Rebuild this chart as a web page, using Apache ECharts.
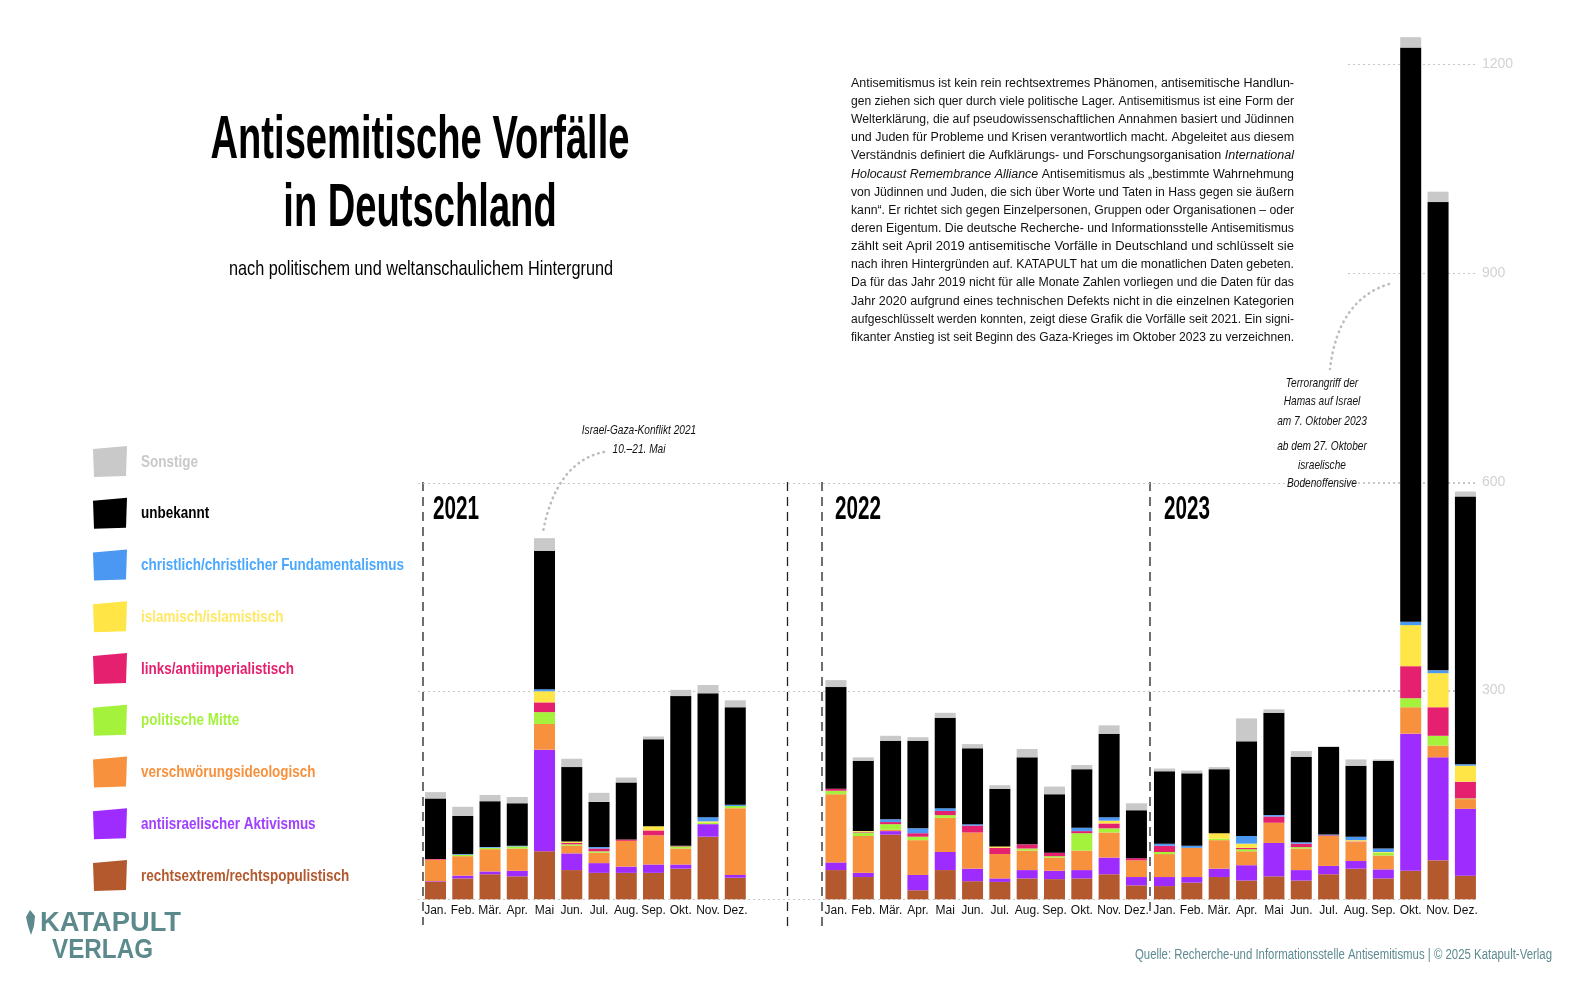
<!DOCTYPE html>
<html><head><meta charset="utf-8">
<script src="https://cdn.jsdelivr.net/npm/echarts@6/dist/echarts.min.js"></script>
<style>html,body{margin:0;padding:0;background:#fff}#c{width:1575px;height:985px}</style>
</head><body><div id="c"></div><script>
// ---------- data ----------
const months = ['Jan.','Feb.','Mär.','Apr.','Mai','Jun.','Jul.','Aug.','Sep.','Okt.','Nov.','Dez.'];
const years = ['2021','2022','2023'];
const yTicks = [0, 300, 600, 900, 1200];
// 36 monthly values (Jan 2021 .. Dez 2023) per category
const rechtsextrem   = [25,30,36,33,69,42,38,38,38,44,90,31, 42,32,93,13,42,26,25,30,29,30,36,20, 19,24,32,27,33,27,36,44,30,41,56,34];
const antiisraelisch = [1,4,4,8,146,24,14,9,12,6,18,4, 11,6,5,22,26,18,5,12,12,12,24,12, 13,8,12,22,48,15,12,11,13,197,148,96];
const verschwoerung  = [31,28,32,32,37,11,15,37,42,23,0,96, 98,53,2,50,49,52,35,28,19,28,36,24, 33,42,41,20,29,31,43,27,20,38,17,14];
const politMitte     = [0,2,2,3,17,2,2,0,0,3,2,3, 5,5,8,5,4,0,0,3,2,25,6,0, 3,0,2,3,0,2,0,0,4,13,14,1];
const links          = [1,0,0,0,14,2,4,2,7,1,0,0, 3,1,3,5,6,10,9,6,5,3,7,3, 9,0,0,2,9,5,1,1,0,46,41,24];
const islamisch      = [0,0,0,0,16,2,0,0,6,0,2,0, 0,1,0,0,0,0,2,0,0,0,4,0, 0,0,8,6,0,0,0,2,1,59,49,23];
const christlich     = [0,1,1,1,3,0,2,0,0,0,6,2, 0,0,4,7,4,2,0,0,0,5,5,0, 3,3,0,11,2,2,1,5,5,5,4,2];
const unbekannt      = [87,55,66,61,199,107,65,82,125,215,178,140, 146,101,113,126,130,109,83,125,84,84,120,69, 104,104,92,136,147,123,126,102,126,825,673,385];
const sonstige       = [9,13,9,9,18,12,13,7,4,9,12,10, 10,5,7,5,7,6,5,12,11,6,12,10, 4,4,3,33,5,8,1,9,2,15,15,7];

const categoryNames = ['rechtsextrem/rechtspopulistisch','antiisraelischer Aktivismus','verschwörungsideologisch','politische Mitte','links/antiimperialistisch','islamisch/islamistisch','christlich/christlicher Fundamentalismus','unbekannt','Sonstige'];
const categoryData = [rechtsextrem, antiisraelisch, verschwoerung, politMitte, links, islamisch, christlich, unbekannt, sonstige];
const barColors  = ['#b4592d','#9e2cff','#f7913d','#a4f23b','#e5206e','#ffe545','#4a98f2','#000000','#c9c9c9'];
const textColors = ['#b4592d','#a040ff','#f7913d','#a4f23b','#e5206e','#ffe866','#4aa8ff','#000000','#c9c9c9'];

const paragraph = [
  [['Antisemitismus ist kein rein rechtsextremes Phänomen, antisemitische Handlun-',0]],
  [['gen ziehen sich quer durch viele politische Lager. Antisemitismus ist eine Form der',0]],
  [['Welterklärung, die auf pseudowissenschaftlichen Annahmen basiert und Jüdinnen',0]],
  [['und Juden für Probleme und Krisen verantwortlich macht. Abgeleitet aus diesem',0]],
  [['Verständnis definiert die Aufklärungs- und Forschungsorganisation ',0],['International',1]],
  [['Holocaust Remembrance Alliance',1],[' Antisemitismus als „bestimmte Wahrnehmung',0]],
  [['von Jüdinnen und Juden, die sich über Worte und Taten in Hass gegen sie äußern',0]],
  [['kann“. Er richtet sich gegen Einzelpersonen, Gruppen oder Organisationen – oder',0]],
  [['deren Eigentum. Die deutsche Recherche- und Informationsstelle Antisemitismus',0]],
  [['zählt seit April 2019 antisemitische Vorfälle in Deutschland und schlüsselt sie',0]],
  [['nach ihren Hintergründen auf. KATAPULT hat um die monatlichen Daten gebeten.',0]],
  [['Da für das Jahr 2019 nicht für alle Monate Zahlen vorliegen und die Daten für das',0]],
  [['Jahr 2020 aufgrund eines technischen Defekts nicht in die einzelnen Kategorien',0]],
  [['aufgeschlüsselt werden konnten, zeigt diese Grafik die Vorfälle seit 2021. Ein signi-',0]],
  [['fikanter Anstieg ist seit Beginn des Gaza-Krieges im Oktober 2023 zu verzeichnen.',0]]
];
const note1 = ['Israel-Gaza-Konflikt 2021','10.–21. Mai'];
const note2 = ['Terrorangriff der','Hamas auf Israel','am 7. Oktober 2023','ab dem 27. Oktober','israelische','Bodenoffensive'];

// ---------- layout helpers ----------
const FF = '"Liberation Sans", Arial, sans-serif';
const ctx = document.createElement('canvas').getContext('2d');
function mw(t, font){ ctx.font = font; return ctx.measureText(t).width; }
const G = [];
function T(text, x, y, font, fill, align, sx, extra){
  G.push(Object.assign({type:'text', x:x, y:y, scaleX:sx||1, silent:true, z:10,
    style:{text:text, font:font, fill:fill, textAlign:align||'left', align:align||'left', textVerticalAlign:'middle', verticalAlign:'middle'}}, extra||{}));
}

// Title
const titleFont = 'bold 61px ' + FF;
const tsx = 419 / mw('Antisemitische Vorfälle', titleFont);
T('Antisemitische Vorfälle', 420, 141, titleFont, '#000', 'center', tsx);
T('in Deutschland', 420, 209, titleFont, '#000', 'center', tsx);
const subFont = '21px ' + FF;
T('nach politischem und weltanschaulichem Hintergrund', 421, 269, subFont, '#000', 'center', 384 / mw('nach politischem und weltanschaulichem Hintergrund', subFont));

// Paragraph (each line stretched to the column width)
const pN = '12.5px ' + FF, pI = 'italic 12.5px ' + FF;
paragraph.forEach((segs, i) => {
  const total = segs.reduce((s, g) => s + mw(g[0], g[1] ? pI : pN), 0);
  const sx = 443 / total;
  let x = 851;
  segs.forEach(g => {
    const f = g[1] ? pI : pN;
    T(g[0], x, 83.3 + i * 18.15, f, '#111', 'left', sx);
    x += mw(g[0], f) * sx;
  });
});

// Legend (top = Sonstige)
const legFont = 'bold 17px ' + FF;
const lsx = 263 / mw('christlich/christlicher Fundamentalismus', legFont);
for (let k = 0; k < 9; k++) {
  const c = 8 - k;
  const yc = 462 + k * 51.75;
  G.push({type:'polygon', silent:true, shape:{points:[[93, yc-13],[127, yc-16],[126, yc+14],[94, yc+15]]}, style:{fill: barColors[c]}});
  T(categoryNames[c], 141, yc, legFont, textColors[c], 'left', lsx);
}

// Year labels
const yrFont = 'bold 33px ' + FF;
const ysx = 46 / mw('2021', yrFont);
[433, 835, 1164].forEach((x, i) => T(years[i], x, 510, yrFont, '#000', 'left', ysx));

// dashed separators
[[423,482,925],[787.5,482,930],[822,482,930],[1150,482,912]].forEach(l => {
  G.push({type:'line', silent:true, shape:{x1:l[0], y1:l[1], x2:l[0], y2:l[2]}, style:{stroke:'#222', lineWidth:1.3, lineDash:[9,6]}});
});

// annotations
const nFont = 'italic 13px ' + FF;
T(note1[0], 639, 430, nFont, '#111', 'center', 0.78);
T(note1[1], 639, 449, nFont, '#111', 'center', 0.78);
[383.7, 401.8, 420.9, 446, 465.1, 483.2].forEach((y, i) => T(note2[i], 1322, y, nFont, '#111', 'center', 0.78));
const dotStyle = {stroke:'#bdbdbd', lineWidth:2.6, lineDash:[0.5,5], lineCap:'round', fill:null};
G.push({type:'bezierCurve', silent:true, shape:{x1:604, y1:452, x2:543, y2:532, cpx1:556, cpy1:462}, style:dotStyle});
G.push({type:'bezierCurve', silent:true, shape:{x1:1389, y1:284, x2:1330, y2:369, cpx1:1338, cpy1:300}, style:dotStyle});

// footer + logo
const footFont = '14px ' + FF;
const footTxt = 'Quelle: Recherche-und Informationsstelle Antisemitismus | © 2025 Katapult-Verlag';
T(footTxt, 1552, 955, footFont, '#5d8b91', 'right', 417 / mw(footTxt, footFont));
const logoFont = 'bold 27px ' + FF;
T('KATAPULT', 40, 924, logoFont, '#5c8a8c', 'left', 141 / mw('KATAPULT', logoFont));
T('VERLAG', 52, 951, logoFont, '#5c8a8c', 'left', 101 / mw('VERLAG', logoFont));
G.push({type:'polygon', silent:true, shape:{points:[[30,910],[35,916],[34,926],[31,935],[28,926],[26,917]]}, style:{fill:'#5c8a8c'}});

// ---------- chart ----------
const BOT = 985 - 899.3, TOP = 64.3;
const yearLeft = [421.9, 822.3, 1150.8], yearWidth = [327, 327.8, 328.3];
const grids = [
  {left:418, right:100, top:483.3, bottom:BOT},   // grid lines 0..600 (full width)
  {left:1348, right:100, top:TOP, bottom:BOT}     // grid lines 0..1200 (right part) + labels
];
yearLeft.forEach((l, i) => grids.push({left:l, width:yearWidth[i], top:TOP, bottom:BOT}));

const splitDot = {show:true, lineStyle:{type:[2,3], color:'#c8c8c8', width:1}};
const xAxes = [
  {gridIndex:0, type:'value', show:false},
  {gridIndex:1, type:'value', show:false}
];
const yAxes = [
  {gridIndex:0, type:'value', min:0, max:600, interval:300, axisLabel:{show:false}, axisLine:{show:false}, axisTick:{show:false}, splitLine:splitDot},
  {gridIndex:1, type:'value', min:yTicks[0], max:yTicks[yTicks.length-1], interval:300, position:'right',
    axisLabel:{show:true, margin:7, color:'#d2d2d2', fontSize:14, fontFamily:FF, formatter: v => v === 0 ? '' : String(v)},
    axisLine:{show:false}, axisTick:{show:false}, splitLine:splitDot}
];
for (let i = 0; i < 3; i++) {
  xAxes.push({gridIndex:i+2, type:'category', data:months, axisLine:{show:false}, axisTick:{show:false},
    axisLabel:{interval:0, margin:5, fontSize:12, color:'#111', fontFamily:'"Liberation Sans Narrow", ' + FF}});
  yAxes.push({gridIndex:i+2, type:'value', min:0, max:1200, show:false, splitLine:{show:false}});
}
const series = [];
for (let i = 0; i < 3; i++) {
  categoryData.forEach((arr, c) => {
    series.push({type:'bar', name:categoryNames[c], xAxisIndex:i+2, yAxisIndex:i+2, stack:'y'+years[i],
      barWidth:21, clip:false, silent:true, animation:false,
      itemStyle:{color:barColors[c]}, data:arr.slice(i*12, i*12+12)});
  });
}

const chart = echarts.init(document.getElementById('c'), null, {renderer:'canvas'});
chart.setOption({
  backgroundColor:'#ffffff',
  animation:false,
  grid:grids, xAxis:xAxes, yAxis:yAxes, series:series,
  graphic:{elements:G}
});
</script></body></html>
